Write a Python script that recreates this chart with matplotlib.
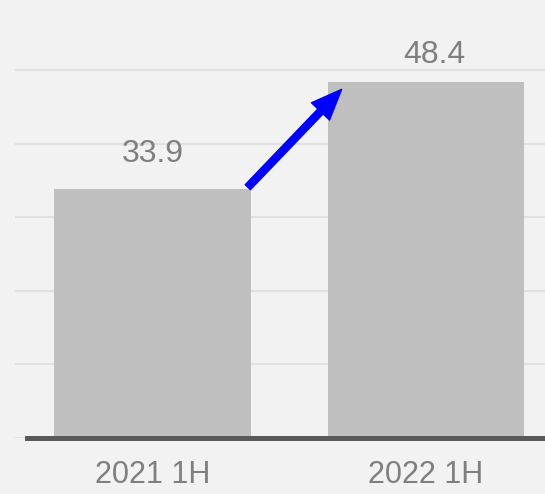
import matplotlib.pyplot as plt
from matplotlib.patches import FancyArrowPatch

plt.rcParams['font.family'] = ['Liberation Sans', 'DejaVu Sans']

periods = ['2021 1H', '2022 1H']
values = [33.9, 48.4]
grid_levels = [0, 10, 20, 30, 40, 50]

bg = '#f2f2f2'
text_grey = '#7f7f7f'
bar_w = 0.717

fig = plt.figure(figsize=(5.45, 4.94), dpi=100, facecolor=bg)
ax = fig.add_axes([0, 0.1134, 1, 0.8866])
ax.set_facecolor(bg)
ax.set_xlim(-0.5576, 1.4351)
ax.set_ylim(0, 59.55)

x = list(range(len(periods)))
ax.hlines(grid_levels, -0.5027, 1.4351, color='#e0e0e0', lw=1.5, zorder=0)
ax.bar(x, values, width=bar_w, color='#bfbfbf', zorder=2)
ax.axhline(0, xmin=(-0.4589 + 0.5576) / (1.4351 + 0.5576), xmax=1,
           color='#595959', lw=3.6, zorder=3, clip_on=False)

# value labels above bars
for xi, v, dx, dy in zip(x, values, [0, 6], [19.4, 13.7]):
    ax.annotate('%.1f' % v, (xi, v), xytext=(dx, dy), textcoords='offset points',
                ha='center', va='baseline', fontsize=23, color=text_grey)

# growth arrow from the first bar to the second
arrow = FancyArrowPatch((x[0] + bar_w / 2 - 0.01, values[0] + 0.2),
                        (x[1] - bar_w / 2 + 0.05, values[1] - 1.0),
                        arrowstyle='simple,head_length=22,head_width=18,tail_width=5.2',
                        mutation_scale=1, color='#0000ff', shrinkA=0, shrinkB=0, zorder=4)
ax.add_patch(arrow)

ax.set_xticks(x, periods)
ax.tick_params(axis='x', length=0, pad=16, labelsize=22, labelcolor=text_grey)
ax.set_yticks([])
for s in ax.spines.values():
    s.set_visible(False)

fig.savefig('out.png', dpi=100, facecolor=bg)
